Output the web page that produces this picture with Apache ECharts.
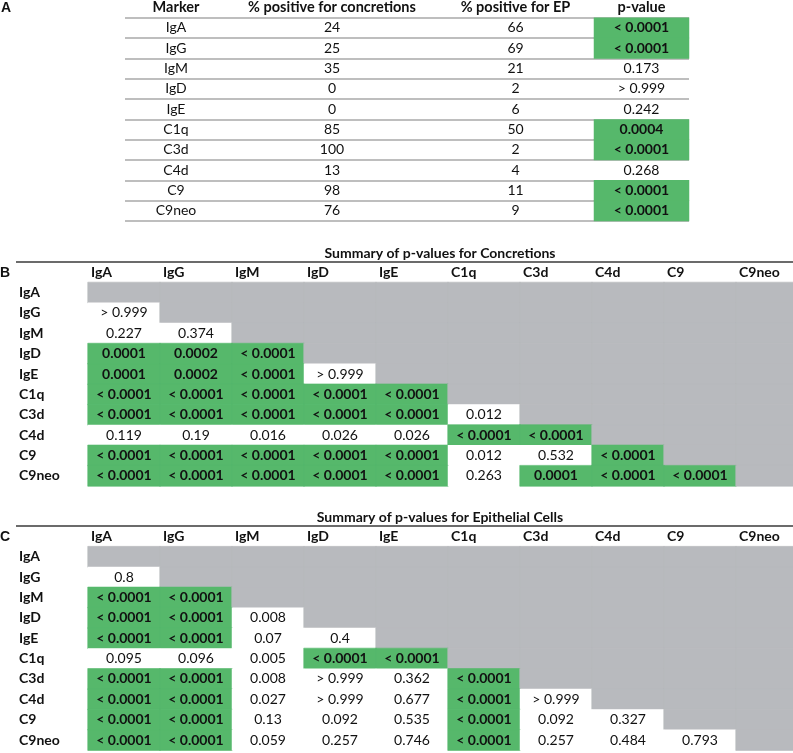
<!DOCTYPE html>
<html>
<head>
<meta charset="utf-8">
<script src="https://cdn.jsdelivr.net/npm/echarts@6/dist/echarts.min.js"></script>
<style>html,body{margin:0;padding:0;background:#fff}#main{width:793px;height:753px}</style>
</head>
<body>
<div id="main"></div>
<script>
// ---------- DATA ----------
const markers = ['IgA', 'IgG', 'IgM', 'IgD', 'IgE', 'C1q', 'C3d', 'C4d', 'C9', 'C9neo'];
const headersA = ['Marker', '% positive for concretions', '% positive for EP', 'p-value'];
const pctConcretions = [24, 25, 35, 0, 0, 85, 100, 13, 98, 76];
const pctEP = [66, 69, 21, 2, 6, 50, 2, 4, 11, 9];
const pValueA = ['< 0.0001', '< 0.0001', '0.173', '> 0.999', '0.242', '0.0004', '< 0.0001', '0.268', '< 0.0001', '< 0.0001'];

const titleB = 'Summary of p-values for Concretions';
const pConcretions = [
  [],
  ['> 0.999'],
  ['0.227', '0.374'],
  ['0.0001', '0.0002', '< 0.0001'],
  ['0.0001', '0.0002', '< 0.0001', '> 0.999'],
  ['< 0.0001', '< 0.0001', '< 0.0001', '< 0.0001', '< 0.0001'],
  ['< 0.0001', '< 0.0001', '< 0.0001', '< 0.0001', '< 0.0001', '0.012'],
  ['0.119', '0.19', '0.016', '0.026', '0.026', '< 0.0001', '< 0.0001'],
  ['< 0.0001', '< 0.0001', '< 0.0001', '< 0.0001', '< 0.0001', '0.012', '0.532', '< 0.0001'],
  ['< 0.0001', '< 0.0001', '< 0.0001', '< 0.0001', '< 0.0001', '0.263', '0.0001', '< 0.0001', '< 0.0001']
];

const titleC = 'Summary of p-values for Epithelial Cells';
const pEpithelial = [
  [],
  ['0.8'],
  ['< 0.0001', '< 0.0001'],
  ['< 0.0001', '< 0.0001', '0.008'],
  ['< 0.0001', '< 0.0001', '0.07', '0.4'],
  ['0.095', '0.096', '0.005', '< 0.0001', '< 0.0001'],
  ['< 0.0001', '< 0.0001', '0.008', '> 0.999', '0.362', '< 0.0001'],
  ['< 0.0001', '< 0.0001', '0.027', '> 0.999', '0.677', '< 0.0001', '> 0.999'],
  ['< 0.0001', '< 0.0001', '0.13', '0.092', '0.535', '< 0.0001', '0.092', '0.327'],
  ['< 0.0001', '< 0.0001', '0.059', '0.257', '0.746', '< 0.0001', '0.257', '0.484', '0.793']
];

// ---------- STYLE / LAYOUT ----------
const FONT = 'Lato';
const FS = 14;
const GREEN = '#56b86b';
const GRAY = '#b8babe';
const TXT = '#111111';
const SEP = '#a8a8a8';

function isSig(s) {
  if (s.startsWith('<')) return true;
  if (s.startsWith('>')) return false;
  return parseFloat(s) < 0.001;
}

const colEdgesA = [125, 227, 437, 594, 689];
const tableATop = 17.8, tableAHeight = 203.2;

const grids = [], xAxes = [], yAxes = [], series = [];

// Panel A : one grid per column
const columnsA = [markers, pctConcretions, pctEP, pValueA];
columnsA.forEach((col, k) => {
  const gi = grids.length;
  grids.push({left: colEdgesA[k], width: colEdgesA[k + 1] - colEdgesA[k], top: tableATop, height: tableAHeight,
    outerBoundsMode: 'none'});
  xAxes.push({
    type: 'category', gridIndex: gi, position: 'top', data: [headersA[k]],
    axisLine: {show: false}, axisTick: {show: false},
    axisLabel: {margin: 3, color: TXT, fontFamily: FONT, fontSize: FS + 0.5, fontWeight: 'bold', interval: 0}
  });
  yAxes.push({
    type: 'category', gridIndex: gi, data: markers, inverse: true,
    axisLine: {show: false}, axisTick: {show: false}, axisLabel: {show: false},
    splitLine: {show: true, lineStyle: {color: SEP, width: 1.5}}
  });
  series.push({
    type: 'heatmap', xAxisIndex: gi, yAxisIndex: gi,
    data: col.map((v, i) => {
      const s = String(v);
      const sig = k === 3 && isSig(s);
      return {
        value: [0, i, 1], text: s,
        itemStyle: {color: sig ? GREEN : 'rgba(0,0,0,0)'},
        label: {fontWeight: sig ? 'bold' : 'normal'}
      };
    }),
    label: {show: true, color: TXT, fontFamily: FONT, fontSize: FS, formatter: p => p.data.text},
    emphasis: {disabled: true}
  });
});

// Panels B and C : triangular matrices
function addMatrix(matrix, top) {
  const gi = grids.length;
  grids.push({left: 88, width: 720, top: top, height: 203.6, outerBoundsMode: 'none'});
  const xi = xAxes.length;
  xAxes.push({
    type: 'category', gridIndex: gi, data: markers, show: false
  });
  xAxes.push({
    type: 'category', gridIndex: gi, position: 'top', boundaryGap: false,
    data: markers.concat(['']),
    axisLine: {show: false}, axisTick: {show: false},
    axisLabel: {margin: 3, align: 'left', padding: [0, 0, 0, 3], interval: 0,
      color: TXT, fontFamily: FONT, fontSize: FS, fontWeight: 'bold'}
  });
  yAxes.push({
    type: 'category', gridIndex: gi, data: markers, inverse: true,
    axisLine: {show: false}, axisTick: {show: false},
    axisLabel: {margin: 69, align: 'left', color: TXT, fontFamily: FONT, fontSize: FS, fontWeight: 'bold', interval: 0}
  });
  const data = [];
  markers.forEach((r, i) => {
    markers.forEach((c, j) => {
      if (j >= i) {
        data.push({value: [j, i, 1], text: '', itemStyle: {color: GRAY, borderColor: GRAY, borderWidth: 0.6}});
      } else {
        const s = matrix[i][j];
        const sig = isSig(s);
        data.push({
          value: [j, i, 1], text: s,
          itemStyle: sig ? {color: GREEN, borderColor: GREEN, borderWidth: 0.6} : {color: '#ffffff'},
          label: {fontWeight: sig ? 'bold' : 'normal'}
        });
      }
    });
  });
  series.push({
    type: 'heatmap', xAxisIndex: xi, yAxisIndex: gi, data: data,
    label: {show: true, color: TXT, fontFamily: FONT, fontSize: FS, formatter: p => p.data.text},
    emphasis: {disabled: true}
  });
}
addMatrix(pConcretions, 282.4);
addMatrix(pEpithelial, 546.6);

const letterStyle = {fontFamily: 'Liberation Sans', fontWeight: 'bold', fontSize: 14, color: '#111'};
const subTitleStyle = {fontFamily: FONT, fontWeight: 'bold', fontSize: FS, color: TXT};

const chart = echarts.init(document.getElementById('main'), null, {renderer: 'canvas'});
chart.setOption({
  animation: false,
  backgroundColor: '#ffffff',
  title: [
    {text: 'A', left: 1, top: 1, padding: 0, textStyle: letterStyle},
    {text: 'B', left: 0, top: 266, padding: 0, textStyle: letterStyle},
    {text: 'C', left: 0, top: 530, padding: 0, textStyle: letterStyle},
    {text: titleB, left: 440, textAlign: 'center', top: 246.5, padding: 0, textStyle: subTitleStyle},
    {text: titleC, left: 440, textAlign: 'center', top: 510.5, padding: 0, textStyle: subTitleStyle}
  ],
  graphic: [
    {type: 'line', shape: {x1: 16, y1: 262, x2: 793, y2: 262}, style: {stroke: '#3a3a3a', lineWidth: 1.4}},
    {type: 'line', shape: {x1: 16, y1: 526, x2: 793, y2: 526}, style: {stroke: '#3a3a3a', lineWidth: 1.4}}
  ],
  grid: grids,
  xAxis: xAxes,
  yAxis: yAxes,
  series: series
});
</script>
</body>
</html>
